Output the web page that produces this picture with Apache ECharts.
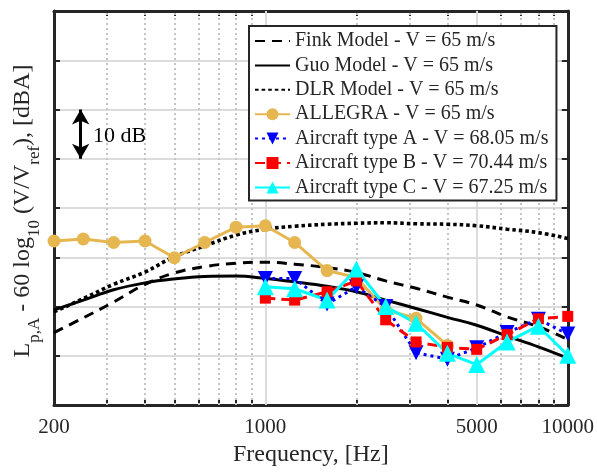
<!DOCTYPE html>
<html><head><meta charset="utf-8">
<script src="https://cdn.jsdelivr.net/npm/echarts@6/dist/echarts.min.js"></script>
<style>html,body{margin:0;padding:0;background:#fff}#c{width:597px;height:474px}</style>
</head><body><div id="c"></div>
<script>
// ---- data ----
const bands = [200,250,315,400,500,630,800,1000,1250,1600,2000,2500,3150,4000,5000,6300,8000,10000];
const finkModel = [14.7,17.7,20.9,24.5,26.8,28.1,28.8,29.0,28.6,27.9,26.9,25.2,23.7,21.9,20.3,17.9,15.9,13.3];
const guoModel  = [19.3,21.3,23.4,24.8,25.6,26.1,26.2,25.7,25.0,24.1,23.0,21.3,19.6,17.8,16.2,14.0,11.8,9.5];
const dlrModel  = [18.9,21.6,24.5,27.0,30.1,32.3,34.5,35.7,36.3,36.7,36.9,37.0,36.8,36.7,36.4,35.7,35.0,33.8];
const allegraFreq = [200,250,315,400,500,630,800,1000,1250,1600,2000,2500,3150,4000];
const allegra     = [33.3,33.7,33.0,33.3,29.9,33.0,36.1,36.4,33.0,27.3,25.9,19.3,17.6,12.1];
const flightFreq = [1000,1250,1600,2000,2500,3150,4000,5000,6300,8000,10000];
const aircraftA = [25.7,25.7,20.5,24.0,20.0,10.6,9.3,11.6,14.7,17.4,14.4];
const aircraftB = [21.7,21.3,23.0,25.2,17.3,12.8,11.7,11.3,14.3,17.5,18.0];
const aircraftC = [24.0,23.6,21.3,27.6,20.0,16.6,10.5,8.2,12.8,16.0,10.1];
const xTickLabels = [200,1000,5000,10000];
const xMinorGrid = [300,400,500,600,700,800,900,2000,3000,4000,6000,7000,8000,9000];
const xMajorGrid = [1000,5000];
const xAllTicks = [300,400,500,600,700,800,900,1000,2000,3000,4000,5000,6000,7000,8000,9000];
const names = ['Fink Model - V = 65 m/s','Guo Model - V = 65 m/s','DLR Model - V = 65 m/s','ALLEGRA - V = 65 m/s',
  'Aircraft type A - V = 68.05 m/s','Aircraft type B - V = 70.44 m/s','Aircraft type C - V = 67.25 m/s'];
const scaleBar = {freq: 245, from: 50, to: 60};

const zip = (xs, ys) => xs.map((x, i) => [x, ys[i]]);
const FONT = 'Liberation Serif';
const AX = '#262626';

const chart = echarts.init(document.getElementById('c'), null, {renderer: 'canvas'});
const xBase = {
  type: 'log', logBase: 10, min: 200, max: 10000,
  axisLine: {show: true, onZero: false, lineStyle: {color: AX, width: 3}},
  splitLine: {show: false}, minorTick: {show: false}, minorSplitLine: {show: false}
};
const yBase = {
  type: 'value', min: 0, max: 80, interval: 10,
  axisLine: {show: true, onZero: false, lineStyle: {color: AX, width: 3}},
  axisLabel: {show: false}
};
const hidden = {color: 'rgba(0,0,0,0)', borderWidth: 0};
chart.setOption({
  animation: false,
  backgroundColor: '#fff',
  grid: {left: 54, right: 27, top: 11, bottom: 69, containLabel: false},
  xAxis: [
    Object.assign({}, xBase, {
      position: 'bottom',
      axisTick: {show: true, inside: true, length: 5, lineStyle: {color: AX, width: 2}, customValues: xAllTicks},
      axisLabel: {show: true, customValues: xTickLabels, fontSize: 21, fontFamily: FONT, color: AX, margin: 12,
                  formatter: v => String(Math.round(v))},
      name: 'Frequency, [Hz]', nameLocation: 'middle', nameGap: 38,
      nameTextStyle: {fontSize: 24, fontFamily: FONT, color: AX}
    }),
    Object.assign({}, xBase, {
      position: 'top',
      axisTick: {show: true, inside: true, length: 5, lineStyle: {color: AX, width: 2}, customValues: xAllTicks},
      axisLabel: {show: false}
    })
  ],
  yAxis: [
    Object.assign({}, yBase, {
      position: 'left',
      axisTick: {show: true, inside: true, length: 6, lineStyle: {color: AX, width: 2}},
      splitLine: {show: true, lineStyle: {color: '#dcdcdc', width: 2}}
    }),
    Object.assign({}, yBase, {
      position: 'right',
      axisTick: {show: true, inside: true, length: 6, lineStyle: {color: AX, width: 2}},
      splitLine: {show: false}
    })
  ],
  legend: {
    data: names, orient: 'vertical', left: 249, top: 26, z: 30,
    itemWidth: 35, itemHeight: 15, itemGap: 4.4,
    padding: [5, 8, 3, 5],
    backgroundColor: '#fff', borderColor: AX, borderWidth: 2,
    textStyle: {fontSize: 20, fontFamily: FONT, color: AX, lineHeight: 20},
    selectedMode: false
  },
  graphic: [
    {type: 'text', x: 27, y: 211, rotation: Math.PI / 2, z: 10,
     style: {
       text: '{m|L}{s|p,A}{m| - 60 log}{s|10}{m| (V/V}{s|ref}{m|), [dBA]}',
       align: 'center', verticalAlign: 'middle',
       rich: {
         m: {fontSize: 24, fontFamily: FONT, fill: AX, lineHeight: 32, verticalAlign: 'top'},
         s: {fontSize: 17, fontFamily: FONT, fill: AX, lineHeight: 17, verticalAlign: 'bottom'}
       }
     }},
    {type: 'text', x: 93, y: 136, z: 10,
     style: {text: '10 dB', fontSize: 22, fontFamily: FONT, fill: '#000', align: 'left', verticalAlign: 'middle'}}
  ],
  series: [
    {type: 'line', name: 'grid-helper', data: [], z: 1, silent: true,
     markLine: {
       z: 1, silent: true, symbol: 'none', animation: false, label: {show: false},
       data: xMinorGrid.map(v => ({xAxis: v, lineStyle: {color: '#c4c4c4', width: 2, type: [2, 3]}}))
         .concat(xMajorGrid.map(v => ({xAxis: v, lineStyle: {color: '#dcdcdc', width: 2, type: 'solid'}})))
     }},
    {type: 'line', name: 'scale-bar', data: [], z: 5, silent: true,
     markLine: {
       z: 5, silent: true, symbol: ['arrow', 'arrow'], symbolSize: [13, 15], animation: false, label: {show: false},
       lineStyle: {color: '#000', width: 3, type: 'solid'},
       data: [[{coord: [scaleBar.freq, scaleBar.from]}, {coord: [scaleBar.freq, scaleBar.to]}]]
     }},
    {type: 'line', name: names[0], data: zip(bands, finkModel), smooth: 0.4, symbol: 'none', z: 3,
     itemStyle: hidden, lineStyle: {color: '#000', width: 3, type: [10, 7]}},
    {type: 'line', name: names[1], data: zip(bands, guoModel), smooth: 0.4, symbol: 'none', z: 3,
     itemStyle: hidden, lineStyle: {color: '#000', width: 3, type: 'solid'}},
    {type: 'line', name: names[2], data: zip(bands, dlrModel), smooth: 0.4, symbol: 'none', z: 3,
     itemStyle: hidden, lineStyle: {color: '#000', width: 3.6, type: [3.6, 3]}},
    {type: 'line', name: names[3], data: zip(allegraFreq, allegra), symbol: 'circle', symbolSize: 13, z: 3,
     itemStyle: {color: '#E6B650'}, lineStyle: {color: '#E6B650', width: 3}},
    {type: 'line', name: names[4], data: zip(flightFreq, aircraftA), symbol: 'triangle', symbolRotate: 180, symbolSize: 15, z: 3,
     itemStyle: {color: '#0000FF'}, lineStyle: {color: '#0000FF', width: 3, type: [3, 4]}},
    {type: 'line', name: names[5], data: zip(flightFreq, aircraftB), symbol: 'rect', symbolSize: 11, z: 3,
     itemStyle: {color: '#FF0000'}, lineStyle: {color: '#FF0000', width: 3, type: [10, 6]}},
    {type: 'line', name: names[6], data: zip(flightFreq, aircraftC), symbol: 'triangle', symbolSize: 17, z: 3,
     itemStyle: {color: '#00FFFF'}, lineStyle: {color: '#00FFFF', width: 3}}
  ]
});
</script></body></html>
